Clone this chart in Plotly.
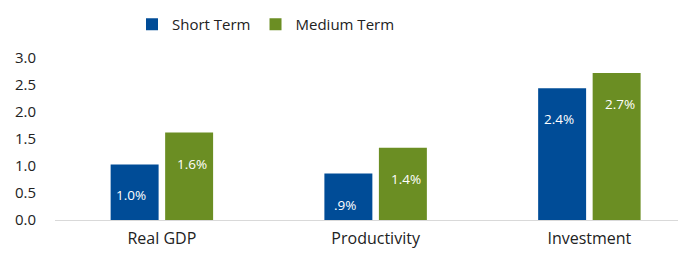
import plotly.graph_objects as go

categories = ["Real GDP", "Productivity", "Investment"]
short_term = [1.03, 0.86, 2.44]
medium_term = [1.62, 1.34, 2.72]
short_labels = ["1.0%", ".9%", "2.4%"]
medium_labels = ["1.6%", "1.4%", "2.7%"]
y_ticks = [0.0, 0.5, 1.0, 1.5, 2.0, 2.5, 3.0]

BLUE = "#004C97"
GREEN = "#6B8E23"
FONT = "Open Sans, Liberation Sans, sans-serif"
GROUP_SHIFT = 30.5  # px offset of each bar center from category center

fig = go.Figure()
fig.add_trace(go.Bar(
    name="Short Term", x=categories, y=short_term,
    marker=dict(color=BLUE, line=dict(width=0)),
    hoverinfo="skip",
))
fig.add_trace(go.Bar(
    name="Medium Term", x=categories, y=medium_term,
    marker=dict(color=GREEN, line=dict(width=0)),
    hoverinfo="skip",
))

annotations = []
for vals, labels, sign in ((short_term, short_labels, -1), (medium_term, medium_labels, 1)):
    for cat, v, lab in zip(categories, vals, labels):
        annotations.append(dict(
            x=cat, y=v, xref="x", yref="y", text=lab, showarrow=False,
            xshift=sign * GROUP_SHIFT, yshift=-31, yanchor="middle",
            font=dict(color="white", size=13.5, family=FONT),
        ))

# page body has an 8px default margin, so the figure is 8px smaller
fig.update_layout(
    width=678, height=245,
    margin=dict(l=47, r=0, t=49, b=33),
    paper_bgcolor="white", plot_bgcolor="white",
    barmode="group", bargap=0.49, bargroupgap=0.12,
    font=dict(family=FONT, size=14, color="#222222"),
    annotations=annotations,
    legend=dict(
        orientation="h", x=0.122, xanchor="left",
        y=1.21, yanchor="middle",
        font=dict(size=15, color="#222222"),
        itemwidth=30, traceorder="normal",
    ),
    showlegend=True,
)
fig.update_xaxes(
    type="category", range=[-0.5, 2.452], automargin=False,
    showline=True, linecolor="#D9D9D9", linewidth=1,
    showgrid=False, ticks="", tickfont=dict(size=16),
    ticklabelstandoff=4,
)
fig.update_yaxes(
    range=[0, 3.0], tickvals=y_ticks, automargin=False,
    ticktext=[f"{v:.1f}" for v in y_ticks],
    showgrid=False, zeroline=False, showline=False,
    tickfont=dict(size=15), ticklabelstandoff=18,
)

fig.write_html("out.html")
